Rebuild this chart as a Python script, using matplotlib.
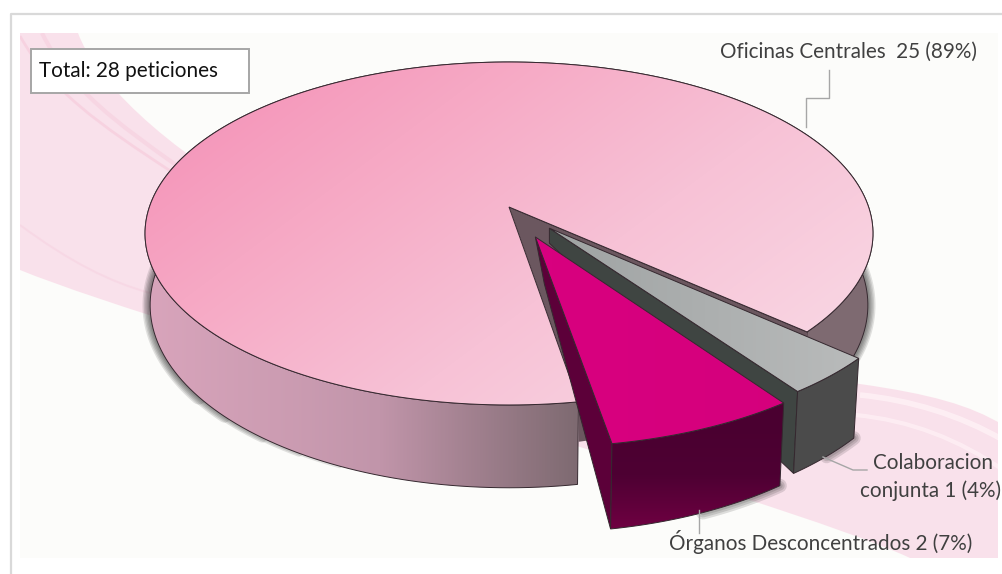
import numpy as np
import matplotlib
matplotlib.use("Agg")
import matplotlib.pyplot as plt
from matplotlib.colors import LinearSegmentedColormap
from matplotlib.patches import Polygon, Rectangle, PathPatch
from matplotlib.path import Path

# ---- data ----
categories = ["Oficinas Centrales", "Órganos Desconcentrados", "Colaboracion conjunta"]
values = [25, 2, 1]
percents = [89, 7, 4]
total_label = "Total: 28 peticiones"

# ---- style / geometry ----
W, H = 1003, 574
CX, APEX_Y, R, A, C = 509.0, 207.0, 359.6, -135.4, 0.1545
DEPTH, SHRINK = 70.0, 0.986
START_DEG = -42.0          # where the main slice starts, counter-clockwise
EXPLODE = [0.0, 0.188, 0.166]
INNER_SHIFT = {1: (9, 47), 2: (0, 15)}   # how far the hidden inner corner of a slice drops
FONT = ["Lato", "DejaVu Sans"]
FS = 14.9
EDGE = "#35282f"

fig = plt.figure(figsize=(W / 100, H / 100), dpi=100)
ax = fig.add_axes([0, 0, 1, 1])
ax.set_xlim(0, W)
ax.set_ylim(H, 0)
ax.axis("off")
yy, xx = np.mgrid[0:H, 0:W]


def project(u, v):
    den = 1 + C * v
    return CX + R * u / den, (A * v + APEX_Y) / den


def lower(u, v):
    x, y = project(u, v)
    return CX + (x - CX) * SHRINK, y + DEPTH / (1 + C * v)


def arc(a0, a1, off=(0, 0), n=240):
    t = np.radians(np.linspace(a0, a1, n))
    return off[0] + np.cos(t), off[1] + np.sin(t)


def grad(poly, field, colors, z):
    cmap = LinearSegmentedColormap.from_list("g", colors)
    im = ax.imshow(np.clip(field, 0, 1), cmap=cmap, vmin=0, vmax=1, extent=(0, W, H, 0),
                   aspect="auto", zorder=z, interpolation="bilinear")
    patch = Polygon(poly, closed=True, transform=ax.transData, fc="none", ec="none")
    ax.add_patch(patch)
    im.set_clip_path(patch)
    ax.add_patch(Polygon(poly, closed=True, fc="none", ec=EDGE, lw=0.7, zorder=z + 0.1))


def band(top, bottom, tail, color, alpha, z=1):
    verts = top + bottom + tail + [top[0]]
    codes = ([Path.MOVETO] + [Path.CURVE4] * (len(top) - 1) + [Path.LINETO]
             + [Path.CURVE4] * (len(bottom) - 1) + [Path.LINETO] * len(tail) + [Path.CLOSEPOLY])
    p = PathPatch(Path(verts, codes), fc=color, ec="none", alpha=alpha, zorder=z)
    ax.add_patch(p)
    p.set_clip_path(bg_rect)


def stripe(pts, color, lw, alpha):
    codes = [Path.MOVETO] + [Path.CURVE4] * (len(pts) - 1)
    p = PathPatch(Path(pts, codes), fc="none", ec=color, lw=lw, alpha=alpha, zorder=1.2)
    ax.add_patch(p)
    p.set_clip_path(bg_rect)


def soft(x, y, z, widths=(11, 9, 7, 5, 3), alpha=0.13):
    for lw in widths:
        ax.plot(x, y, color="#000000", lw=lw, alpha=alpha, zorder=z, solid_capstyle="round")


# frame and background
ax.plot([11, 11, W], [574, 14, 14], color="#d9d9d9", lw=1.6, zorder=0)
bg_rect = Rectangle((20, 33), 978, 525, fc="#fcfcfa", ec="none", zorder=0.5)
ax.add_patch(bg_rect)
band([(78, 33), (110, 120), (330, 310), (860, 384), (930, 394), (970, 405), (1003, 425)],
     [(1003, 558), (910, 558), (910, 558), (910, 558), (780, 497), (180, 335), (20, 270)],
     [(20, 33)], "#f9d9e6", 0.75)
stripe([(20, 36), (50, 90), (100, 125), (172, 172)], "#f6c9da", 2, 0.6)
stripe([(42, 33), (70, 90), (120, 125), (176, 165)], "#f7cfde", 3, 0.6)
stripe([(20, 225), (70, 262), (110, 282), (150, 293)], "#f7d3e1", 1.5, 0.6)
stripe([(860, 395), (910, 400), (960, 415), (1003, 440)], "#fff2f6", 4, 0.8)
stripe([(855, 415), (910, 420), (960, 440), (1003, 470)], "#fff2f6", 3, 0.7)

# slice angles from the values
sweeps = 360.0 * np.array(values) / sum(values)
a0 = [START_DEG, START_DEG + sweeps[0], START_DEG + sweeps[0] + sweeps[1]]
a1 = [a0[i] + sweeps[i] for i in range(3)]

# main slice: soft shadows, outer wall, notch wall, top
u, v = arc(a0[0], a1[0])
tx, ty = project(u, v)
bx, by = lower(u, v)
for lw, lim in zip((3, 5, 7, 9, 11), (340, 300, 265, 230, 200)):
    sel = (by > 262) & ((bx > 700) | (bx < lim))
    soft(np.where(sel, bx, np.nan), np.where(sel, by, np.nan), 2, widths=(lw,), alpha=0.11)
wall_pts = np.column_stack([np.r_[tx, bx[::-1]], np.r_[ty, by[::-1]]])
side = np.interp(xx, [150, 300, 577, 880], [0, 0.3, 1, 1])
grad(wall_pts, side, ["#d8a4bb", "#c195aa", "#7e6a71"], 3)

ux, vy = np.cos(np.radians(a0[0])), np.sin(np.radians(a0[0]))
ap = project(0, 0)
rim = project(ux, vy)
front_x, front_y = tx[-1], ty[-1]
ax.add_patch(Polygon([ap, rim, lower(ux, vy), (front_x, front_y + 40), (front_x, front_y)], closed=True,
                     fc="#6b575f", ec="none", zorder=3.5))
ax.plot([ap[0], rim[0]], [ap[1], rim[1]], color=EDGE, lw=0.7, zorder=3.6)

tpx, tpy = project(np.r_[0, u], np.r_[0, v])
shade = ((xx - 145) * 0.75 + (yy - 62) * 1.0) / 800
grad(np.column_stack([tpx, tpy]), shade, ["#f48db5", "#f6a8c4", "#f7c2d6", "#f9d6e3"], 4)

# exploded slices, the farther one first
palette = {2: ("#3f4542", "#4b4b4b", "#9fa3a3", "#b9bbbb"),
           1: ("#5c0039", "#4e0033", "#d8007f", "#d4007c")}
for i in (2, 1):
    mid = np.radians((a0[i] + a1[i]) / 2)
    off = (EXPLODE[i] * np.cos(mid), EXPLODE[i] * np.sin(mid))
    u, v = arc(a0[i], a1[i], off, 60)
    tx, ty = project(u, v)
    bx, by = lower(u, v)
    side_c, outer_c, c1, c2 = palette[i]
    z = 5 if i == 2 else 6
    k = len(bx) // 2
    soft(bx[k:], by[k:], z - 0.3, widths=(10, 7, 4), alpha=0.12)
    ox, oy = project(*off)
    inner = (ox + INNER_SHIFT[i][0], oy + INNER_SHIFT[i][1])
    ax.add_patch(Polygon([(ox, oy), (tx[0], ty[0]), (bx[0], by[0]), inner], closed=True,
                         fc=side_c, ec=EDGE, lw=0.7, zorder=z))
    wall = np.column_stack([np.r_[tx, bx[::-1]], np.r_[ty, by[::-1]]])
    if i == 1:
        grad(wall, (yy - 420) / 110, ["#4a0030", "#4e0033", "#700042"], z + 0.2)
    else:
        ax.add_patch(Polygon(wall, closed=True, fc=outer_c, ec=EDGE, lw=0.7, zorder=z + 0.2))
    poly = np.column_stack([np.r_[ox, tx], np.r_[oy, ty]])
    grad(poly, (xx - 550) / 310, [c1, c2], z + 0.4)

# leader lines
LEAD = "#a6a6a6"
ax.plot([806, 806, 829, 829], [127, 98, 98, 70], color=LEAD, lw=1, zorder=8)
ax.plot([699, 699], [510, 533], color=LEAD, lw=1, zorder=8)
ax.plot([823, 853, 867], [457, 470, 470], color=LEAD, lw=1, zorder=8)

# labels
TXT = "#404040"
ax.text(977, 52, f"{categories[0]}  {values[0]} ({percents[0]}%)", ha="right", va="center",
        fontsize=FS, color=TXT, family=FONT, zorder=9)
ax.text(972, 542, f"{categories[1]} {values[1]} ({percents[1]}%)", ha="right", va="center",
        fontsize=FS, color=TXT, family=FONT, zorder=9)
n1, n2 = categories[2].split(" ")
ax.text(933, 463, n1, ha="center", va="center", fontsize=FS, color=TXT, family=FONT, zorder=9)
ax.text(931, 491, f"{n2} {values[2]} ({percents[2]}%)", ha="center", va="center",
        fontsize=FS, color=TXT, family=FONT, zorder=9)
ax.add_patch(Rectangle((31, 49), 218, 44, fc="white", ec="#a6a6a6", lw=1.4, zorder=9))
ax.text(39, 71, total_label, ha="left", va="center", fontsize=FS, color="#111111", family=FONT, zorder=10)

ax.set_xlim(0, W)
ax.set_ylim(H, 0)
fig.savefig("out.png", dpi=100, facecolor="white")
